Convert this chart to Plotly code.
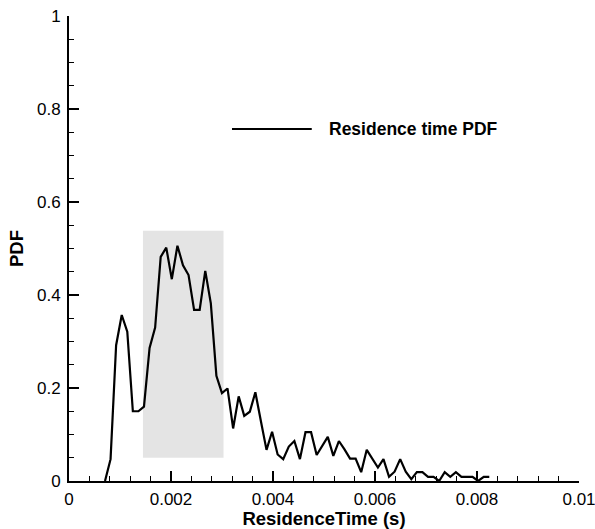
import plotly.graph_objects as go

# Residence time bins (s) and PDF values
residence_time = [
    0.000706, 0.000815, 0.000924, 0.001034, 0.001143, 0.001252, 0.001361, 0.001470,
    0.001580, 0.001689, 0.001798, 0.001907, 0.002016, 0.002126, 0.002235, 0.002344,
    0.002453, 0.002562, 0.002672, 0.002781, 0.002890, 0.002999, 0.003108, 0.003218,
    0.003327, 0.003436, 0.003545, 0.003654, 0.003764, 0.003873, 0.003982, 0.004091,
    0.004200, 0.004310, 0.004419, 0.004528, 0.004637, 0.004746, 0.004856, 0.004965,
    0.005074, 0.005183, 0.005292, 0.005402, 0.005511, 0.005620, 0.005729, 0.005838,
    0.005948, 0.006057, 0.006166, 0.006275, 0.006384, 0.006494, 0.006603, 0.006712,
    0.006821, 0.006930, 0.007040, 0.007149, 0.007258, 0.007367, 0.007476, 0.007586,
    0.007695, 0.007804, 0.007913, 0.008022, 0.008132, 0.008241,
]
pdf_values = [
    0.0, 0.047, 0.292, 0.357, 0.321, 0.150, 0.150, 0.160,
    0.286, 0.330, 0.482, 0.502, 0.434, 0.506, 0.464, 0.443,
    0.368, 0.368, 0.452, 0.382, 0.226, 0.189, 0.199, 0.113,
    0.182, 0.140, 0.149, 0.191, 0.128, 0.067, 0.106, 0.057,
    0.047, 0.074, 0.086, 0.047, 0.105, 0.105, 0.056, 0.075,
    0.095, 0.054, 0.086, 0.068, 0.048, 0.048, 0.019, 0.067,
    0.047, 0.029, 0.047, 0.009, 0.020, 0.047, 0.020, 0.004,
    0.019, 0.019, 0.009, 0.009, 0.0, 0.019, 0.009, 0.019,
    0.009, 0.009, 0.009, 0.0, 0.009, 0.009,
]

# Highlighted region (data coordinates)
highlight_x = [0.00145, 0.00303]
highlight_y = [0.05, 0.538]

series_name = "Residence time PDF"
x_title = "ResidenceTime (s)"
y_title = "PDF"

FONT = "Liberation Sans, Arial, Helvetica, sans-serif"

fig = go.Figure()
fig.add_trace(go.Scatter(
    x=residence_time, y=pdf_values, mode="lines",
    line=dict(color="black", width=2.2), name=series_name, showlegend=False,
    cliponaxis=False,
))

fig.add_shape(type="rect", xref="x", yref="y",
              x0=highlight_x[0], x1=highlight_x[1], y0=highlight_y[0], y1=highlight_y[1],
              fillcolor="#e4e4e4", line=dict(width=0), layer="below")

# Manual legend: line sample + bold label
fig.add_shape(type="line", xref="paper", yref="paper",
              x0=0.3196, x1=0.476, y0=0.757, y1=0.757,
              line=dict(color="black", width=2.2))
fig.add_annotation(xref="paper", yref="paper", x=0.506, y=0.757,
                   text="<b>" + series_name + "</b>", showarrow=False,
                   xanchor="left", yanchor="middle",
                   font=dict(family=FONT, size=17.5, color="black"))

axis_common = dict(
    showgrid=False, zeroline=False, showline=True, linecolor="black", linewidth=2,
    ticks="inside", ticklen=10, tickwidth=2, tickcolor="black", automargin=False,
    ticklabeloverflow="allow",
    tickfont=dict(family=FONT, size=17, color="black"),
)

fig.update_xaxes(
    range=[0, 0.01], tick0=0, dtick=0.002, ticklabelstandoff=2, **axis_common,
    minor=dict(ticks="inside", ticklen=5, tickwidth=1, tickcolor="black", dtick=0.0004, showgrid=False),
    title=dict(text="<b>" + x_title + "</b>", font=dict(family=FONT, size=18.5, color="black"), standoff=4),
)
fig.update_yaxes(
    range=[0, 1], tick0=0, dtick=0.2, ticklabelstandoff=3, **axis_common,
    minor=dict(ticks="inside", ticklen=5, tickwidth=1, tickcolor="black", dtick=0.05, showgrid=False),
    title=dict(text="<b>" + y_title + "</b>", font=dict(family=FONT, size=18.5, color="black"), standoff=8),
)

fig.update_layout(
    width=595, height=529,
    margin=dict(l=69, r=16, t=16, b=48),
    plot_bgcolor="white", paper_bgcolor="white",
    showlegend=False,
)

fig.write_html("out.html")
